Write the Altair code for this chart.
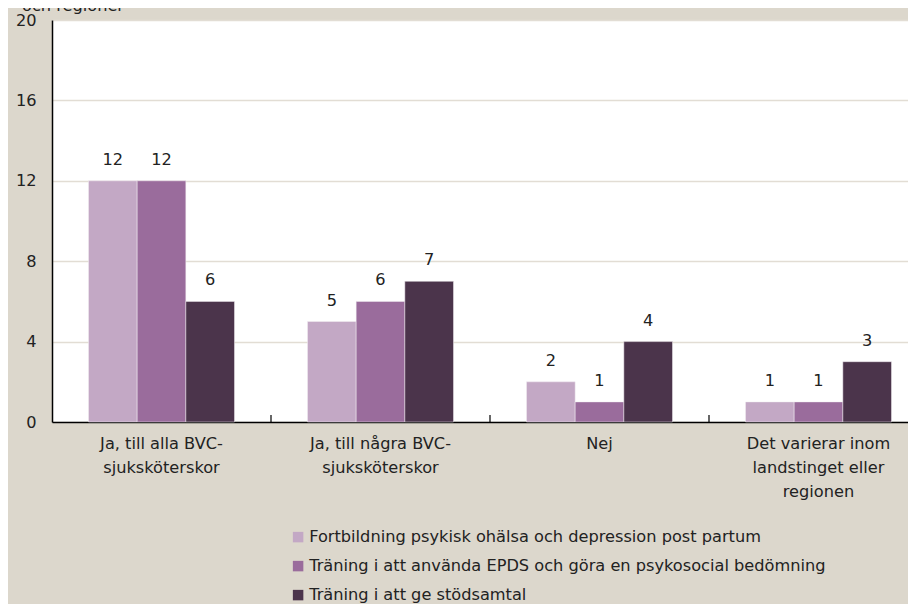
import altair as alt
import pandas as pd

categories = [
    "Ja, till alla BVC-|sjuksköterskor",
    "Ja, till några BVC-|sjuksköterskor",
    "Nej",
    "Det varierar inom|landstinget eller|regionen",
]
series = [
    "Fortbildning psykisk ohälsa och depression post partum",
    "Träning i att använda EPDS och göra en psykosocial bedömning",
    "Träning i att ge stödsamtal",
]
values = {
    series[0]: [12, 5, 2, 1],
    series[1]: [12, 6, 1, 1],
    series[2]: [6, 7, 4, 3],
}
colors = ["#C3A8C5", "#9A6C9C", "#4B344B"]
y_ticks = [0, 4, 8, 12, 16, 20]
y_title_fragment = "och regioner"

rows = []
for s in series:
    for c, v in zip(categories, values[s]):
        rows.append({"kategori": c, "serie": s, "antal": v})
df = pd.DataFrame(rows)

FONT = "DejaVu Sans"
FS = 16.2
W, H = 856, 402          # visible plot area
X_RANGE = 876            # the category scale runs a little past the right edge
P_INNER = 1 / 3
STEP = X_RANGE / len(categories)
HALF_GAP = P_INNER * STEP / 2

xscale = alt.Scale(domain=categories, range=[0, X_RANGE],
                   paddingInner=P_INNER, paddingOuter=P_INNER / 2)
yscale = alt.Scale(domain=[0, 20], nice=False)

base = alt.Chart(df)

bars = base.mark_bar(stroke="#F2EEF2", strokeWidth=0.5).encode(
    x=alt.X(
        "kategori:N",
        scale=xscale,
        sort=categories,
        axis=alt.Axis(
            title=None,
            labelAngle=0,
            labelExpr="split(datum.label, '|')",
            labelFont=FONT,
            labelFontSize=FS,
            labelColor="#222222",
            labelLineHeight=24,
            labelPadding=13,
            ticks=False,
            domainColor="#000000",
            domainWidth=1.5,
            labelBaseline="top",
        ),
    ),
    xOffset=alt.XOffset("serie:N", sort=series),
    y=alt.Y(
        "antal:Q",
        scale=yscale,
        axis=alt.Axis(
            title=None,
            values=y_ticks,
            ticks=False,
            labelFont=FONT,
            labelFontSize=FS,
            labelColor="#222222",
            labelPadding=16,
            gridColor="#E2DDD4",
            gridWidth=1.5,
            domainColor="#000000",
            domainWidth=1.5,
        ),
    ),
    color=alt.Color(
        "serie:N",
        sort=series,
        scale=alt.Scale(domain=series, range=colors),
        legend=alt.Legend(
            title=None,
            orient="none",
            legendX=238,
            legendY=509,
            direction="vertical",
            symbolType="square",
            symbolSize=110,
            symbolStrokeWidth=0,
            labelFont=FONT,
            labelFontSize=FS,
            labelColor="#222222",
            labelOffset=3,
            rowPadding=12,
            labelLimit=700,
        ),
    ),
)

labels = base.mark_text(
    baseline="alphabetic", dy=-16, font=FONT, fontSize=FS, color="#222222"
).encode(
    x=alt.X("kategori:N", scale=xscale, sort=categories),
    xOffset=alt.XOffset("serie:N", sort=series),
    y=alt.Y("antal:Q", scale=yscale),
    text=alt.Text("antal:Q"),
)

tick_df = pd.DataFrame({"kategori": categories[1:]})
ticks = alt.Chart(tick_df).mark_rule(
    color="#000000", strokeWidth=1.2, xOffset=-HALF_GAP
).encode(
    x=alt.X("kategori:N", scale=xscale, sort=categories, bandPosition=0),
    y=alt.value(H),
    y2=alt.value(H - 7),
)

ytitle = alt.Chart(pd.DataFrame({"t": [y_title_fragment]})).mark_text(
    align="left", baseline="alphabetic", font=FONT, fontSize=FS, color="#222222"
).encode(
    x=alt.value(-30),
    y=alt.value(-9),
    text="t:N",
)

chart = (
    alt.layer(bars, labels, ticks, ytitle)
    .properties(
        width=W,
        height=H,
        background="#DCD7CC",
        autosize=alt.AutoSizeParams(type="none"),
        padding={"left": 44, "top": 12, "right": 0, "bottom": 182},
    )
    .configure_view(fill="#FFFFFF", stroke=None)
)

chart.save("out.html", embed_options={"renderer": "svg", "actions": False})
